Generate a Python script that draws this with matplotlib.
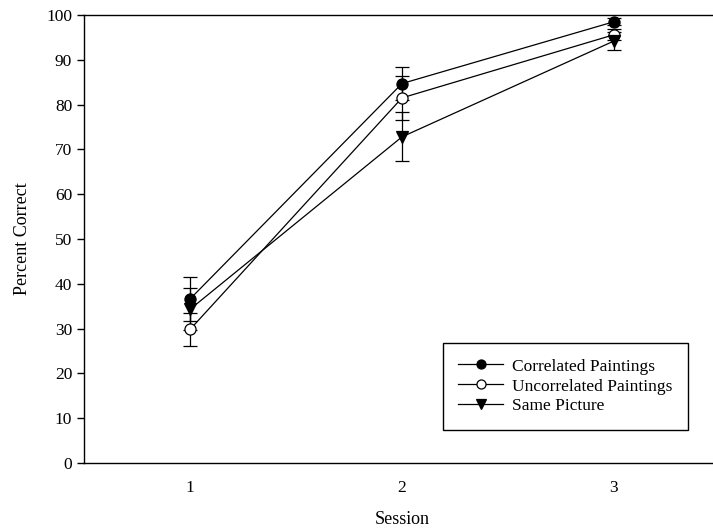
import numpy as np
import matplotlib
matplotlib.use('Agg')
import matplotlib.pyplot as plt
from matplotlib.lines import Line2D

sessions = [1, 2, 3]
correlated = [36.6, 84.7, 98.5]
correlated_err = [5.0, 3.6, 0.8]
uncorrelated = [29.8, 81.5, 95.6]
uncorrelated_err = [3.7, 4.9, 1.2]
same_picture = [34.3, 72.8, 94.2]
same_picture_err = [4.7, 5.5, 2.0]

plt.rcParams['font.family'] = ['Liberation Serif']

fig = plt.figure(figsize=(7.13, 5.31), dpi=100)
ax = fig.add_axes([84/713, 68/531, 636/713, 448/531])

series = [
    (correlated, correlated_err, 'o', 'black', 'Correlated Paintings'),
    (uncorrelated, uncorrelated_err, 'o', 'white', 'Uncorrelated Paintings'),
    (same_picture, same_picture_err, 'v', 'black', 'Same Picture'),
]
handles = []
for vals, errs, mk, face, lab in series:
    ax.errorbar(sessions, vals, yerr=errs, color='black', marker=mk, markersize=8,
                markerfacecolor=face, markeredgecolor='black', markeredgewidth=0.9,
                linewidth=0.9, elinewidth=0.9, capsize=5, capthick=0.9)
    handles.append(Line2D([], [], color='black', marker=mk, markersize=6.5,
                          markerfacecolor=face, markeredgecolor='black',
                          markeredgewidth=0.9, linewidth=0.9, label=lab))

ax.set_xlim(0.5, 3.5)
ax.set_ylim(0, 100)
ax.set_xticks(sessions)
ax.set_yticks(range(0, 101, 10))
ax.tick_params(axis='x', length=0, pad=12, labelsize=12.5)
ax.tick_params(axis='y', direction='out', length=5, width=1, labelsize=12.5)
ax.spines['right'].set_visible(False)
for s in ['left', 'bottom', 'top']:
    ax.spines[s].set_linewidth(1.0)

ax.set_xlabel('Session', fontsize=13, labelpad=11)
ax.set_ylabel('Percent Correct', fontsize=13, labelpad=11)

leg = ax.legend(handles=handles, loc='lower right', bbox_to_anchor=(0.965, 0.19),
                bbox_transform=fig.transFigure, fancybox=False, edgecolor='black',
                fontsize=12.5, handlelength=2.6, handletextpad=0.5,
                borderpad=0.9, labelspacing=0.22, borderaxespad=0, framealpha=1)
leg.get_frame().set_linewidth(1.0)

fig.savefig('out.png', dpi=100)
